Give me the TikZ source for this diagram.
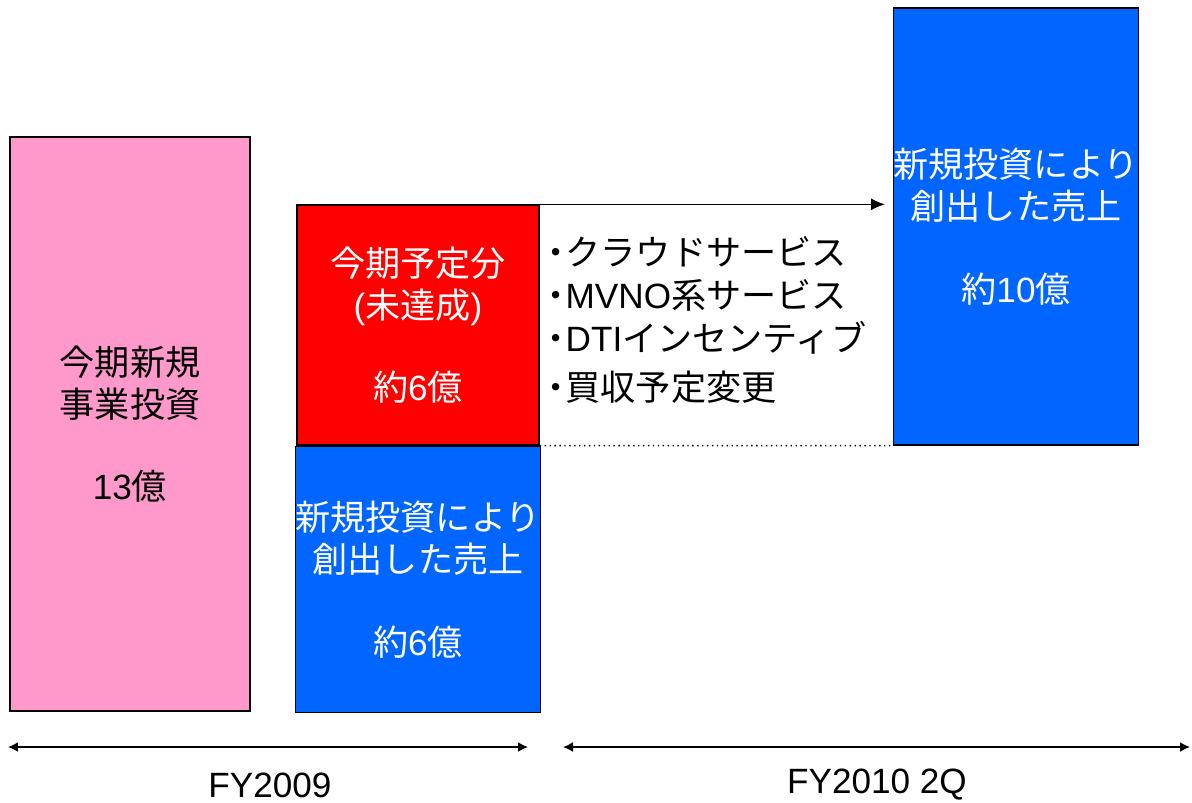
\documentclass[tikz,border=0pt]{standalone}
\usepackage{fontspec}
\setmainfont{Liberation Sans}
\newfontfamily\lat{Liberation Sans}
\newfontfamily\jp{Noto Sans CJK JP}
\usetikzlibrary{positioning,arrows.meta}
\definecolor{invpink}{HTML}{FF99CC}
\definecolor{planred}{HTML}{FF0000}
\definecolor{salesblue}{HTML}{0066FF}
\newcommand{\dotitem}{\makebox[0.55em]{・}}
\tikzset{
	bar/.style={draw=black, line width=0.8pt, inner sep=0pt, align=center, minimum width=4.84cm, font=\jp\fontsize{20}{24}\selectfont},
	period/.style={{Latex[length=2mm,width=2mm]}-{Latex[length=2mm,width=2mm]}, line width=1pt},
	fylabel/.style={font=\lat\fontsize{20}{24}\selectfont},
}
\begin{document}
\begin{tikzpicture}[x=0.02cm, y=-0.02cm]
	\useasboundingbox (0,0) rectangle (1192,802);
	% boxes
	\node[bar, fill=invpink, minimum width=4.8cm, minimum height=11.48cm] (inv) at (130,424)
		{今期新規\\事業投資\\[23pt]{\lat 13}億};
	\node[bar, fill=planred, text=white, minimum height=4.8cm] (plan) at (418,325)
		{今期予定分\\{\lat (}未達成{\lat )}\\[23pt]約{\lat 6}億};
	\node[bar, fill=salesblue, text=white, minimum height=5.32cm, below=0pt of plan] (sales)
		{新規投資により\\創出した売上\\[23pt]約{\lat 6}億};
	\node[bar, fill=salesblue, text=white, minimum height=8.74cm] (growth) at (1016,226.5)
		{新規投資により\\創出した売上\\[23pt]約{\lat 10}億};
	% reasons
	\node[anchor=west, align=left, inner sep=0pt, font=\jp\fontsize{20}{24.5}\selectfont] (why) at (546,320)
		{\dotitem クラウドサービス\\\dotitem{\lat MVNO}系サービス\\\dotitem{\lat DTI}インセンティブ\\[3pt]\dotitem 買収予定変更};
	\coordinate (tip) at (885,206);
	\draw[-{Latex[length=2.8mm,width=2.4mm]}, line width=0.8pt] (plan.north east) -- (plan.north east -| tip);
	\draw[dotted, line width=0.8pt] (plan.south east) -- (growth.south west);
	% periods
	\coordinate (a1) at (8,747);
	\coordinate (a2) at (528,747);
	\coordinate (b1) at (563,747);
	\coordinate (b2) at (1190,747);
	\draw[period] (a1) -- (a2);
	\draw[period] (b1) -- (b2);
	\node[fylabel] (fy09) at (270,785) {FY2009};
	\node[fylabel] (fy10) at (877,785) {FY2010 2Q};
\end{tikzpicture}
\end{document}
